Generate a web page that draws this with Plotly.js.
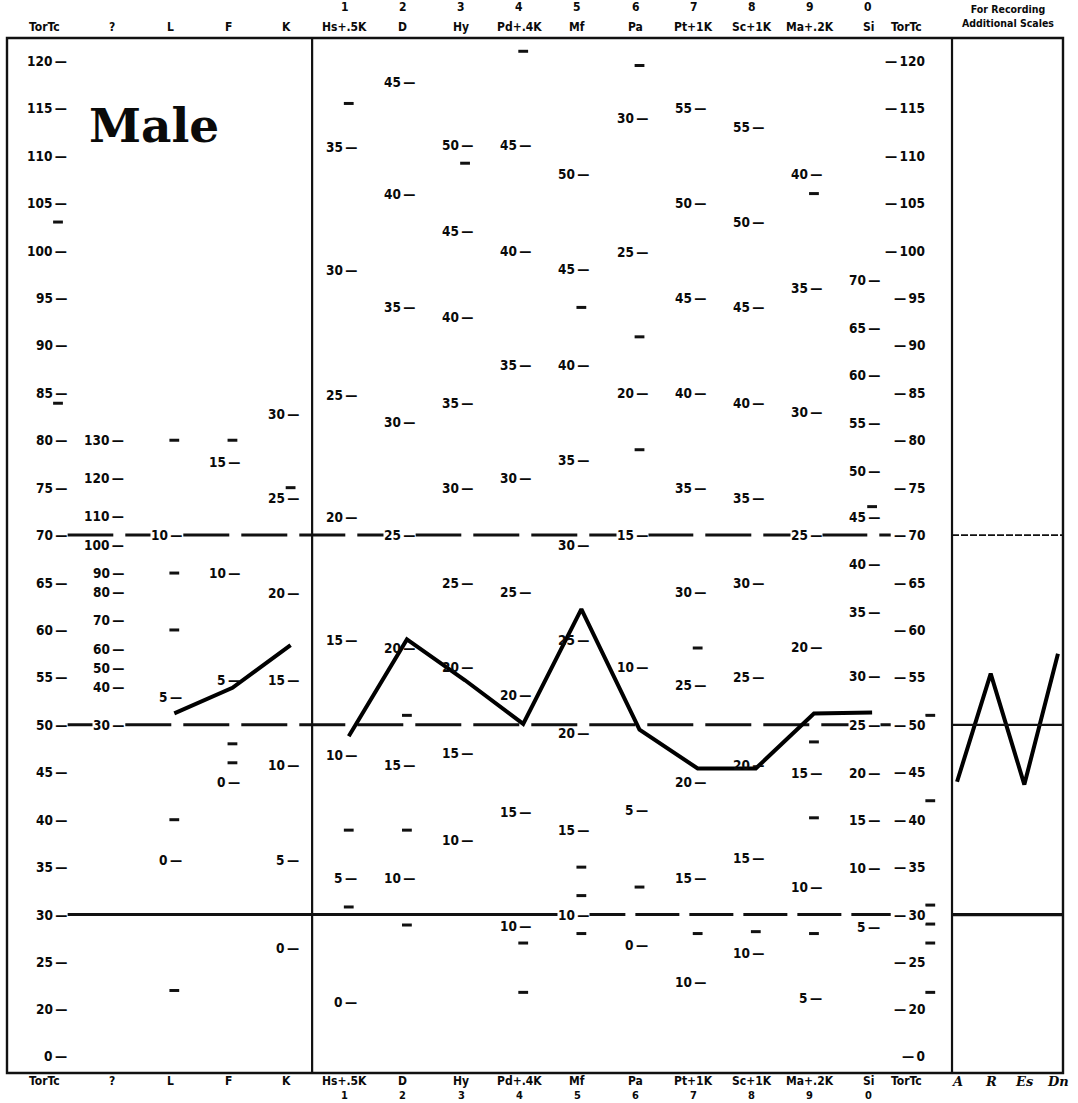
<!DOCTYPE html>
<html><head><meta charset="utf-8">
<script src="https://cdn.plot.ly/plotly-3.0.1.min.js"></script>
<style>html,body{margin:0;padding:0;background:#fff}#chart{width:1078px;height:1103px}</style>
</head><body><div id="chart"></div>
<script>
// ---------- DATA ----------
const scales = ["TorTc","?","L","F","K","Hs+.5K","D","Hy","Pd+.4K","Mf","Pa","Pt+1K","Sc+1K","Ma+.2K","Si","TorTc"];
const scaleNumbers = ["","","","","","1","2","3","4","5","6","7","8","9","0",""];
const tLabels = [120,115,110,105,100,95,90,85,80,75,70,65,60,55,50,45,40,35,30,25,20,0];
const tLeftMinor = [103,83.9];
const tRightMinor = [51,42,31,29,27,21.8];
const refLinesT = [70,50,30];

// raw-score marks printed in each scale column (raw score, T position)
const qRaw = [130,120,110,100,90,80,70,60,50,40,30];
const qT   = [80,76,72,69,66,64,61,58,56,54,50];
const lRaw = [10,5,0];            const lT = [70,52.9,35.8];          const lMinor = [80,66,60,40,22];
const fRaw = [15,10,5,0];         const fT = [77.7,66,54.7,44];       const fMinor = [80,48,46];
const kRaw = [30,25,20,15,10,5,0];const kT = [82.8,73.9,63.9,54.7,45.8,35.8,26.5]; const kMinor = [75];
const hsRaw = [35,30,25,20,15,10,5,0]; const hsT = [110.9,97.9,84.8,71.9,58.9,46.8,33.9,20.8]; const hsMinor = [115.5,38.9,30.8];
const dRaw = [45,40,35,30,25,20,15,10]; const dT = [117.8,106,94,81.9,70,58.1,45.8,33.9]; const dMinor = [51,38.9,28.9];
const hyRaw = [50,45,40,35,30,25,20,15,10]; const hyT = [111.1,102.1,93,83.9,75,64.9,56.1,47,37.9]; const hyMinor = [109.2];
const pdRaw = [45,40,35,30,25,20,15,10]; const pdT = [111.1,100,87.9,76,64,53.1,40.8,28.8]; const pdMinor = [121,27,21.8];
const mfRaw = [50,45,40,35,30,25,20,15,10]; const mfT = [108.1,98.1,87.9,77.9,69,58.9,49.1,38.9,30]; const mfMinor = [94,35,32,28];
const paRaw = [30,25,20,15,10,5,0]; const paT = [114,99.8,85,70,56.1,41,26.8]; const paMinor = [119.5,90.9,79,32.9];
const ptRaw = [55,50,45,40,35,30,25,20,15,10]; const ptT = [115,105,95,85,75,64,54.2,44,33.9,22.9]; const ptMinor = [58.1,28];
const scRaw = [55,50,45,40,35,30,25,20,15,10]; const scT = [113,103,94,83.9,73.9,65,55,45.8,36,26]; const scMinor = [28.2];
const maRaw = [40,35,30,25,20,15,10,5]; const maT = [108.1,96,83,70,58.2,44.9,32.9,21.2]; const maMinor = [106,48.2,40.2,28];
const siRaw = [70,65,60,55,50,45,40,35,30,25,20,15,10,5]; const siT = [96.9,91.8,86.9,81.8,76.8,71.9,67,61.9,55.2,50,44.9,40,34.9,28.7]; const siMinor = [73];

// plotted profile (T scores)
const validityScales = ["L","F","K"];
const validityT = [51.2,53.9,58.4];
const clinicalScales = ["Hs+.5K","D","Hy","Pd+.4K","Mf","Pa","Pt+1K","Sc+1K","Ma+.2K","Si"];
const clinicalT = [48.8,59.0,54.7,50.1,62.2,49.5,45.4,45.4,51.2,51.3];
const extraScales = ["A","R","Es","Dn"];
const extraT = [44.0,55.4,43.7,57.5];

// ---------- BUILD ----------
const FONT = "DejaVu Sans Condensed, Liberation Sans Narrow, Arial Narrow, Liberation Sans, sans-serif";
const ZERO_SLOT = 15.05;               // the form prints "0" one step below 20
const tPos = t => (t === 0 ? ZERO_SLOT : t);
const col = s => scales.indexOf(s);
const LAST = scales.length - 1;
const BOX_LEFT = 0.8949;
const DIVIDER = 4.37;

const columns = [
  ["?", qRaw, qT, []], ["L", lRaw, lT, lMinor], ["F", fRaw, fT, fMinor], ["K", kRaw, kT, kMinor],
  ["Hs+.5K", hsRaw, hsT, hsMinor], ["D", dRaw, dT, dMinor], ["Hy", hyRaw, hyT, hyMinor],
  ["Pd+.4K", pdRaw, pdT, pdMinor], ["Mf", mfRaw, mfT, mfMinor], ["Pa", paRaw, paT, paMinor],
  ["Pt+1K", ptRaw, ptT, ptMinor], ["Sc+1K", scRaw, scT, scMinor], ["Ma+.2K", maRaw, maT, maMinor],
  ["Si", siRaw, siT, siMinor]
];

const lblFont = {family: FONT, size: 13.5, color: "#0a0a0a", weight: 700};
const onLine = t => refLinesT.some(r => Math.abs(r - t) < 0.7);
const annotations = [];

columns.forEach(([name, raws, ts]) => {
  raws.forEach((r, k) => {
    annotations.push({xref: "x", yref: "y", x: col(name), y: ts[k], text: r + "\u2009\u2014",
      xanchor: "right", yanchor: "middle", xshift: 9, showarrow: false, font: lblFont,
      bgcolor: onLine(ts[k]) ? "#fff" : "rgba(0,0,0,0)", borderpad: 0});
  });
});
// T-score labels, left and right
tLabels.forEach(t => {
  annotations.push({xref: "x", yref: "y", x: 0, y: tPos(t), text: t + "\u2009\u2014",
    xanchor: "right", yanchor: "middle", xshift: 10, showarrow: false, font: lblFont,
    bgcolor: onLine(t) ? "#fff" : "rgba(0,0,0,0)", borderpad: 0});
  annotations.push({xref: "x", yref: "y", x: LAST, y: tPos(t), text: "\u2014\u2009" + t,
    xanchor: "right", yanchor: "middle", xshift: -4, showarrow: false, font: lblFont,
    bgcolor: onLine(t) ? "#fff" : "rgba(0,0,0,0)", borderpad: 0});
});
// headers (top) and footers (bottom)
const hdrFont = {family: FONT, size: 12, color: "#0a0a0a", weight: 700};
const digFont = {family: FONT, size: 11, color: "#0a0a0a", weight: 700};
scales.forEach((s, i) => {
  const sh = i === 0 ? -14 : (i === LAST ? -24 : -4);
  annotations.push({xref: "x", yref: "paper", x: i, y: 1.0106, text: s, xanchor: "center", yanchor: "middle",
    xshift: sh, showarrow: false, font: hdrFont});
  annotations.push({xref: "x", yref: "paper", x: i, y: -0.0080, text: s, xanchor: "center", yanchor: "middle",
    xshift: sh, showarrow: false, font: hdrFont});
  if (scaleNumbers[i]) {
    annotations.push({xref: "x", yref: "paper", x: i, y: 1.030, text: scaleNumbers[i], xanchor: "center", yanchor: "middle",
      xshift: sh, showarrow: false, font: hdrFont});
    annotations.push({xref: "x", yref: "paper", x: i, y: -0.0215, text: scaleNumbers[i], xanchor: "center", yanchor: "middle",
      xshift: sh, showarrow: false, font: digFont});
  }
});
annotations.push({xref: "paper", yref: "paper", x: (BOX_LEFT + 1) / 2, y: 1.021, text: "For Recording<br>Additional Scales",
  xanchor: "center", yanchor: "middle", showarrow: false, font: {family: FONT, size: 10.5, color: "#0a0a0a", weight: 700}});
extraScales.forEach(s => {
  annotations.push({xref: "x2", yref: "paper", x: s, y: -0.0080, text: s, xanchor: "center", yanchor: "middle",
    showarrow: false, font: {family: "DejaVu Serif, serif", size: 13, color: "#0a0a0a", weight: 700, style: "italic"}});
});
annotations.push({xref: "paper", yref: "paper", x: 0.076, y: 0.944, text: "Male", xanchor: "left", yanchor: "top",
  showarrow: false, font: {family: "DejaVu Serif, Liberation Serif, serif", size: 47, color: "#0a0a0a", weight: 700}});

// minor unlabeled tick marks
const minorX = [], minorY = [];
columns.forEach(([name, , , minors]) => minors.forEach(t => { minorX.push(col(name)); minorY.push(t); }));
tLeftMinor.forEach(t => { minorX.push(0); minorY.push(t); });
tRightMinor.forEach(t => { minorX.push(LAST); minorY.push(t); });

const traces = [
  {type: "scatter", mode: "markers", x: minorX, y: minorY, xaxis: "x", yaxis: "y",
   marker: {symbol: "line-ew", size: 7, line: {width: 3, color: "#111"}, color: "#111"}, hoverinfo: "skip"},
  {type: "scatter", mode: "lines", x: validityScales.map(col), y: validityT, xaxis: "x", yaxis: "y",
   line: {color: "#000", width: 4}, hoverinfo: "skip"},
  {type: "scatter", mode: "lines", x: clinicalScales.map(col), y: clinicalT, xaxis: "x", yaxis: "y",
   line: {color: "#000", width: 4}, hoverinfo: "skip"},
  {type: "scatter", mode: "lines", x: extraScales, y: extraT, xaxis: "x2", yaxis: "y",
   line: {color: "#000", width: 4}, hoverinfo: "skip"}
];

// reference lines and frame
const shapes = [];
shapes.push({type: "line", xref: "x", yref: "y", x0: 0.16, x1: 14.32, y0: 70, y1: 70, line: {color: "#111", width: 3, dash: "46px,12px"}, layer: "below"});
shapes.push({type: "line", xref: "x", yref: "y", x0: 0.16, x1: 14.32, y0: 50, y1: 50, line: {color: "#111", width: 3, dash: "46px,12px"}, layer: "below"});
shapes.push({type: "line", xref: "x", yref: "y", x0: 0.16, x1: col("Mf"), y0: 30, y1: 30, line: {color: "#111", width: 3}, layer: "below"});
shapes.push({type: "line", xref: "x", yref: "y", x0: col("Mf"), x1: 14.32, y0: 30, y1: 30, line: {color: "#111", width: 3, dash: "44px,10px"}, layer: "below"});
shapes.push({type: "line", xref: "x2 domain", yref: "y", x0: 0, x1: 1, y0: 70, y1: 70, line: {color: "#111", width: 1.6, dash: "7px,2px"}});
shapes.push({type: "line", xref: "x2 domain", yref: "y", x0: 0, x1: 1, y0: 50, y1: 50, line: {color: "#111", width: 2.2}});
shapes.push({type: "line", xref: "x2 domain", yref: "y", x0: 0, x1: 1, y0: 30, y1: 30, line: {color: "#111", width: 3.2}});
shapes.push({type: "rect", xref: "paper", yref: "paper", x0: 0, x1: 1, y0: 0, y1: 1, line: {color: "#111", width: 2.4}});
shapes.push({type: "line", xref: "x", yref: "paper", x0: DIVIDER, x1: DIVIDER, y0: 0, y1: 1, line: {color: "#111", width: 2.2}});
shapes.push({type: "line", xref: "paper", yref: "paper", x0: BOX_LEFT, x1: BOX_LEFT, y0: 0, y1: 1, line: {color: "#111", width: 2.2}});

const hidden = {showgrid: false, zeroline: false, showline: false, showticklabels: false, ticks: ""};
const layout = {
  width: 1078, height: 1103, autosize: false,
  margin: {l: 7, r: 15, t: 38, b: 30, pad: 0},
  paper_bgcolor: "#fff", plot_bgcolor: "#fff", showlegend: false,
  xaxis: Object.assign({domain: [0, BOX_LEFT], range: [-0.877, 15.374]}, hidden),
  xaxis2: Object.assign({domain: [BOX_LEFT, 1], type: "category", categoryarray: extraScales, categoryorder: "array",
    range: [-0.15, 3.15], anchor: "y"}, hidden),
  yaxis: Object.assign({range: [13.3, 122.4]}, hidden),
  annotations: annotations, shapes: shapes
};
Plotly.newPlot("chart", traces, layout, {staticPlot: true, displayModeBar: false});
</script></body></html>
